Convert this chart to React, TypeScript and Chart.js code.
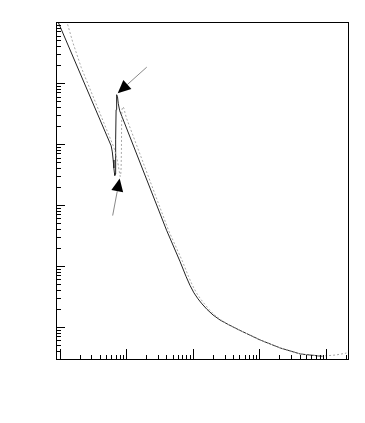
import React, { useEffect, useRef } from "react";
import { Chart, registerables } from "chart.js";

Chart.register(...registerables);

// Solid (dark) curve
const solidX = [0.933, 5.966, 6.2, 6.39, 6.55, 6.67, 6.76, 6.85, 6.92, 7.0, 7.07, 7.14, 7.27, 7.42, 7.63, 8.01, 40.4, 64.2, 79.1, 90.7, 104.2, 119.8, 137.6, 163.6, 201.5, 256.7, 339, 514, 1028, 2058, 4114, 8830];
const solidY = [105.8, 0.931, 0.741, 0.547, 0.404, 0.335, 0.305, 0.322, 0.453, 1.167, 3.64, 5.95, 6.42, 5.95, 4.57, 3.5, 0.0386, 0.01194, 0.00677, 0.00482, 0.00362, 0.00289, 0.00239, 0.00194, 0.00157, 0.0013, 0.0011, 0.000875, 0.000611, 0.000452, 0.00036, 0.00033];

// Dotted (grey) curve
const dottedX = [1.275, 1.57, 2.12, 6.51, 6.97, 7.42, 7.74, 7.96, 8.15, 8.29, 8.41, 8.5, 8.56, 8.65, 8.83, 9.04, 9.3, 9.69, 10.2, 43.8, 70, 86.1, 98.9, 113.7, 130.6, 150, 175.4, 212.5, 266, 339, 514, 1028, 2058, 4114, 8830, 13860, 20280];
const dottedY = [105.8, 47.8, 17.9, 0.895, 0.687, 0.527, 0.404, 0.335, 0.293, 0.31, 0.404, 0.8, 2.06, 3.64, 3.92, 4.08, 3.78, 3.13, 2.59, 0.0372, 0.01194, 0.00677, 0.00482, 0.00362, 0.00289, 0.00239, 0.00194, 0.00157, 0.0013, 0.0011, 0.000875, 0.000611, 0.000452, 0.00036, 0.000333, 0.000346, 0.000373];

// Arrows (tail -> tip), in data units
const arrowTailX = [20.4, 6.28];
const arrowTailY = [18.2, 0.067];
const arrowTipX = [7.47, 8.0];
const arrowTipY = [6.8, 0.272];

// Axis ranges
const xMin = 0.886;
const xMax = 22130;
const yMin = 0.000287;
const yMax = 100;

const framePlugin = {
  id: "rootFrame",
  afterDatasetsDraw(chart: any) {
    const { ctx, chartArea, scales } = chart;
    const xs = scales.x;
    const ys = scales.y;
    const { left, right, top, bottom } = chartArea;
    ctx.save();
    // arrows
    for (let i = 0; i < arrowTailX.length; i++) {
      const x0 = xs.getPixelForValue(arrowTailX[i]);
      const y0 = ys.getPixelForValue(arrowTailY[i]);
      const x1 = xs.getPixelForValue(arrowTipX[i]);
      const y1 = ys.getPixelForValue(arrowTipY[i]);
      const ang = Math.atan2(y1 - y0, x1 - x0);
      const hl = 13;
      const hw = 6;
      const bx = x1 - hl * Math.cos(ang);
      const by = y1 - hl * Math.sin(ang);
      ctx.strokeStyle = "#888";
      ctx.lineWidth = 1;
      ctx.beginPath();
      ctx.moveTo(x0, y0);
      ctx.lineTo(bx, by);
      ctx.stroke();
      ctx.fillStyle = "#000";
      ctx.beginPath();
      ctx.moveTo(x1, y1);
      ctx.lineTo(bx + hw * Math.sin(ang), by - hw * Math.cos(ang));
      ctx.lineTo(bx - hw * Math.sin(ang), by + hw * Math.cos(ang));
      ctx.closePath();
      ctx.fill();
    }
    // frame
    ctx.strokeStyle = "#000";
    ctx.lineWidth = 1;
    ctx.strokeRect(Math.round(left) + 0.5, Math.round(top) + 0.5, Math.round(right - left) - 1, Math.round(bottom - top) - 1);
    // ticks
    ctx.beginPath();
    for (let k = -1; k <= 5; k++) {
      for (let m = 1; m <= 9; m++) {
        const v = m * Math.pow(10, k);
        if (v < xMin || v > xMax) continue;
        const px = Math.round(xs.getPixelForValue(v)) + 0.5;
        const len = m === 1 ? 11 : 5;
        ctx.moveTo(px, bottom);
        ctx.lineTo(px, bottom - len);
      }
    }
    for (let k = -5; k <= 2; k++) {
      for (let m = 1; m <= 9; m++) {
        const v = m * Math.pow(10, k);
        if (v < yMin || v > yMax) continue;
        const py = Math.round(ys.getPixelForValue(v)) + 0.5;
        const len = m === 1 ? 9 : 5;
        ctx.moveTo(left, py);
        ctx.lineTo(left + len, py);
      }
    }
    ctx.stroke();
    ctx.restore();
  },
};

export default function App() {
  const ref = useRef<HTMLCanvasElement | null>(null);
  useEffect(() => {
    if (!ref.current) return;
    const toPts = (xs: number[], ys: number[]) => xs.map((x, i) => ({ x, y: ys[i] }));
    const chart = new Chart(ref.current, {
      type: "scatter",
      data: {
        datasets: [
          {
            data: toPts(dottedX, dottedY),
            showLine: true,
            borderColor: "#a8a8a8",
            borderWidth: 1,
            borderDash: [2, 2],
            pointRadius: 0,
            tension: 0,
          },
          {
            data: toPts(solidX, solidY),
            showLine: true,
            borderColor: "#222",
            borderWidth: 1,
            pointRadius: 0,
            tension: 0,
          },
        ],
      },
      options: {
        animation: false,
        responsive: false,
        devicePixelRatio: 1,
        layout: { padding: { left: 56, top: 22, right: 16, bottom: 63 } },
        plugins: { legend: { display: false }, tooltip: { enabled: false } },
        scales: {
          x: { type: "logarithmic", min: xMin, max: xMax, display: false },
          y: { type: "logarithmic", min: yMin, max: yMax, display: false },
        },
      },
      plugins: [framePlugin],
    });
    return () => chart.destroy();
  }, []);
  return (
    <div style={{ position: "absolute", left: 0, top: 0, width: 365, height: 423, background: "#fff" }}>
      <canvas ref={ref} width={365} height={423} style={{ display: "block" }} />
    </div>
  );
}
